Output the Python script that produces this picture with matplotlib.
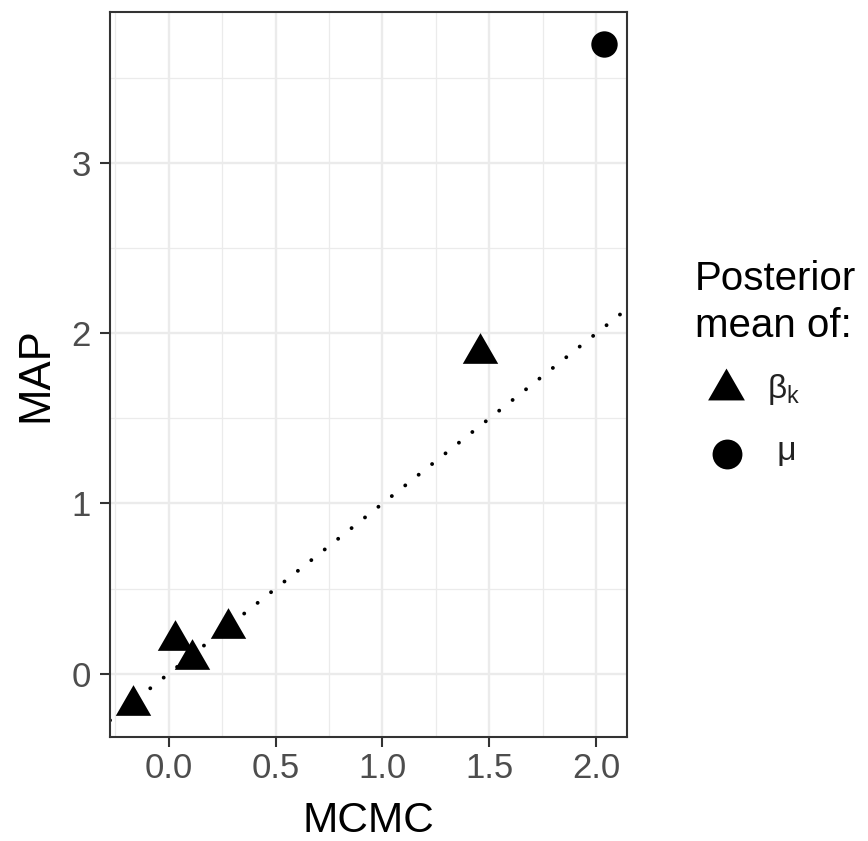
import numpy as np
import matplotlib
matplotlib.use("Agg")
import matplotlib.pyplot as plt
from matplotlib.path import Path

plt.rcParams["font.family"] = ["Liberation Sans", "DejaVu Sans"]

# Posterior means: MCMC estimate (x) vs MAP estimate (y)
beta_mcmc = [-0.168, 0.030, 0.109, 0.275, 1.455]
beta_map = [-0.154, 0.225, 0.117, 0.300, 1.916]
mu_mcmc = [2.036]
mu_map = [3.700]

x_ticks = [0.0, 0.5, 1.0, 1.5, 2.0]
x_ticklabels = ["0.0", "0.5", "1.0", "1.5", "2.0"]
y_ticks = [0, 1, 2, 3]
y_ticklabels = ["0", "1", "2", "3"]
x_minor = [-0.25, 0.25, 0.75, 1.25, 1.75]
y_minor = [0.5, 1.5, 2.5, 3.5]

legend_title = ["Posterior", "mean of:"]
legend_labels = [r"$\mathregular{\beta_k}$", " \u03bc"]

W, H = 868, 841
fig = plt.figure(figsize=(W / 100, H / 100), dpi=100)
ax = fig.add_axes([110 / W, 1 - 737 / H, (627 - 110) / W, (737 - 12) / H])

xlim = (-0.275, 2.144)
ylim = (-0.373, 3.89)
ax.set_xlim(*xlim)
ax.set_ylim(*ylim)

grid = "#EBEBEB"
ax.set_xticks(x_ticks)
ax.set_xticklabels(x_ticklabels)
ax.set_yticks(y_ticks)
ax.set_yticklabels(y_ticklabels)
ax.set_xticks(x_minor, minor=True)
ax.set_yticks(y_minor, minor=True)
ax.grid(True, which="major", color=grid, lw=1.7, zorder=0)
ax.grid(True, which="minor", color=grid, lw=0.9, zorder=0)
ax.set_axisbelow(True)
ax.tick_params(which="minor", length=0)
ax.tick_params(which="major", length=7.5, width=1.5, color="#333333",
               labelcolor="#4D4D4D", labelsize=25)
ax.tick_params(axis="x", pad=3.5)
ax.tick_params(axis="y", pad=6.5)
for s in ax.spines.values():
    s.set_color("#333333")
    s.set_linewidth(1.5)

# identity line, drawn as round dots
lims = np.array(xlim)
ax.plot(lims, lims, color="black", lw=2.8, linestyle=(0, (0.01, 4.4)),
        dash_capstyle="round", zorder=2)

tri = Path([(0, 0.866), (-1, -0.866), (1, -0.866), (0, 0.866)],
           [Path.MOVETO, Path.LINETO, Path.LINETO, Path.CLOSEPOLY])
ax.plot(beta_mcmc, beta_map, linestyle="none", marker=tri, markersize=25.5,
        color="black", markeredgewidth=0, zorder=3)
ax.plot(mu_mcmc, mu_map, linestyle="none", marker="o", markersize=19,
        color="black", markeredgewidth=0, zorder=3)

ax.set_xlabel("MCMC", fontsize=30.5, color="black", labelpad=11)
ax.set_ylabel("MAP", fontsize=31.5, color="black", labelpad=11)

# legend drawn on an overlay in pixel units
lg = fig.add_axes([0, 0, 1, 1], facecolor="none")
lg.set_xlim(0, W)
lg.set_ylim(H, 0)
lg.axis("off")
lg.text(695, 290, legend_title[0], fontsize=29, ha="left", va="baseline")
lg.text(695, 337, legend_title[1], fontsize=29, ha="left", va="baseline")
lg.plot([725.5], [384], marker=tri, markersize=26.5, color="black",
        markeredgewidth=0, linestyle="none")
lg.plot([727], [454], marker="o", markersize=21.5, color="black",
        markeredgewidth=0, linestyle="none")
lg.text(767, 389, legend_labels[0], fontsize=24, color="#222222",
        ha="left", va="center")
lg.text(768, 451, legend_labels[1], fontsize=24, color="#222222",
        ha="left", va="center")

fig.savefig("out.png", dpi=100, facecolor="white")
